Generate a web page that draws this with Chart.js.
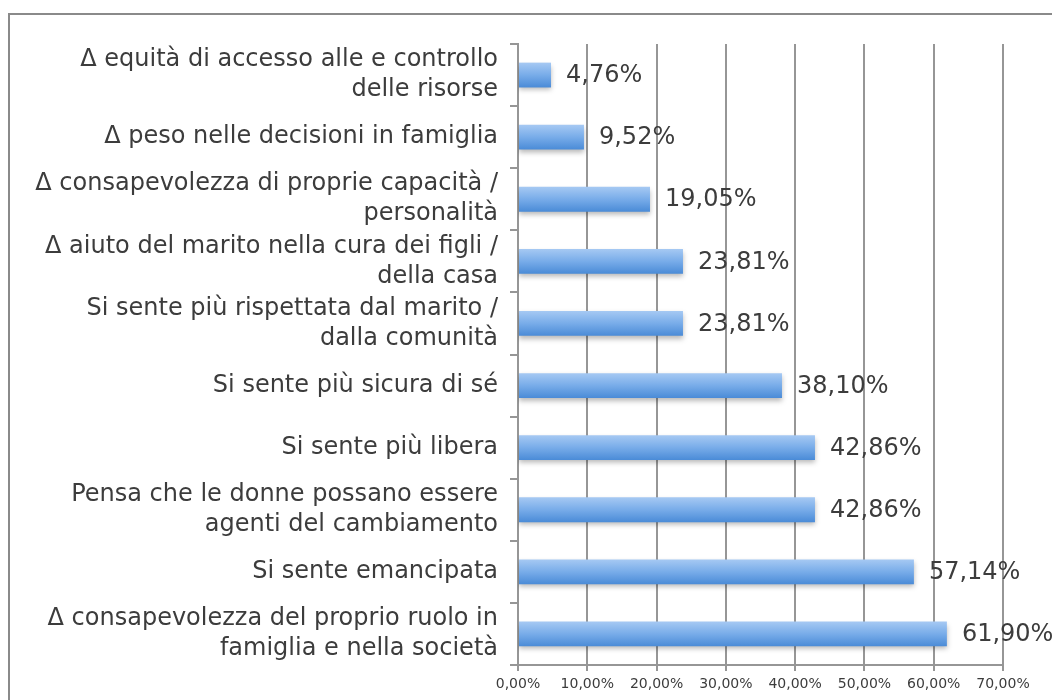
<!DOCTYPE html>
<html>
<head>
<meta charset="utf-8">
<script src="https://cdn.jsdelivr.net/npm/chart.js@4"></script>
<style>
  html, body { margin: 0; padding: 0; background: #fff; overflow: hidden; }
  #frame {
    position: absolute; left: 8px; top: 13px; width: 1100px; height: 800px;
    border: 2px solid #8a8a8a; box-sizing: border-box;
  }
  #wrap { position: absolute; left: 0; top: 0; width: 1052px; height: 700px; }
</style>
</head>
<body>
<div id="frame"></div>
<div id="wrap"><canvas id="chart"></canvas></div>
<script>
/* ===== DATA ===== */
const categories = [
  ['\u0394 equità di accesso alle e controllo', 'delle risorse'],
  ['\u0394 peso nelle decisioni in famiglia'],
  ['\u0394 consapevolezza di proprie capacità /', 'personalità'],
  ['\u0394 aiuto del marito nella cura dei figli /', 'della casa'],
  ['Si sente più rispettata dal marito /', 'dalla comunità'],
  ['Si sente più sicura di sé'],
  ['Si sente più libera'],
  ['Pensa che le donne possano essere', 'agenti del cambiamento'],
  ['Si sente emancipata'],
  ['\u0394 consapevolezza del proprio ruolo in', 'famiglia e nella società']
];
const values = [4.76, 9.52, 19.05, 23.81, 23.81, 38.10, 42.86, 42.86, 57.14, 61.90];
const xTicks = [0, 10, 20, 30, 40, 50, 60, 70];

const FONT = "'DejaVu Sans', Verdana, sans-serif";
const TEXT = '#3c3c3c';
const GRID = '#969696';
const BAR_PCT = 0.4;

const fmt = v => v.toFixed(2).replace('.', ',') + '%';

/* ===== BAR GRADIENT (per bar, from the y scale) ===== */
function barGradient(ctx) {
  const chart = ctx.chart;
  const y = chart.scales.y;
  if (!y || !chart.chartArea) return '#6fa6e6';
  const center = y.getPixelForValue(ctx.dataIndex);
  const half = (chart.chartArea.height / categories.length) * BAR_PCT / 2;
  const g = chart.ctx.createLinearGradient(0, center - half, 0, center + half);
  g.addColorStop(0, '#a6c9f3');
  g.addColorStop(0.5, '#78ace9');
  g.addColorStop(1, '#4a8bd7');
  return g;
}

/* ===== SHADOW + VALUE LABELS ===== */
const barExtras = {
  id: 'barExtras',
  beforeDatasetsDraw(chart) {
    const c = chart.ctx;
    c.save();
    c.shadowColor = 'rgba(0,0,0,0.28)';
    c.shadowBlur = 5;
    c.shadowOffsetY = 3;
  },
  afterDatasetsDraw(chart) {
    const c = chart.ctx;
    c.restore();
    c.save();
    c.font = '24px ' + FONT;
    c.fillStyle = TEXT;
    c.textBaseline = 'middle';
    c.textAlign = 'left';
    chart.getDatasetMeta(0).data.forEach((el, i) => {
      c.fillText(fmt(values[i]), el.x + 15, el.y + 1);
    });
    c.restore();
  }
};

new Chart(document.getElementById('chart'), {
  type: 'bar',
  data: {
    labels: categories,
    datasets: [{
      data: values,
      backgroundColor: barGradient,
      borderWidth: 0,
      categoryPercentage: 1,
      barPercentage: BAR_PCT
    }]
  },
  options: {
    indexAxis: 'y',
    responsive: true,
    maintainAspectRatio: false,
    animation: false,
    layout: { padding: { top: 44, right: 49, bottom: 0, left: 0 } },
    scales: {
      x: {
        min: 0,
        max: 70,
        afterBuildTicks: s => { s.ticks = xTicks.map(v => ({ value: v })); },
        afterFit: s => { s.height = 35; },
        ticks: {
          callback: v => fmt(v),
          color: TEXT,
          font: { family: FONT, size: 14 },
          padding: 5,
          maxRotation: 0
        },
        grid: { color: GRID, lineWidth: 2, tickLength: 6, tickColor: GRID },
        border: { color: GRID, width: 2 }
      },
      y: {
        afterFit: s => { s.width = 518; s.paddingTop = 0; s.paddingBottom = 0; },
        ticks: {
          color: TEXT,
          font: { family: FONT, size: 24, lineHeight: 1.25 },
          padding: 12,
          autoSkip: false
        },
        grid: { offset: true, drawOnChartArea: false, tickLength: 8, color: GRID, lineWidth: 2 },
        border: { color: GRID, width: 2 }
      }
    },
    plugins: {
      legend: { display: false },
      tooltip: { enabled: false }
    }
  },
  plugins: [barExtras]
});
</script>
</body>
</html>
